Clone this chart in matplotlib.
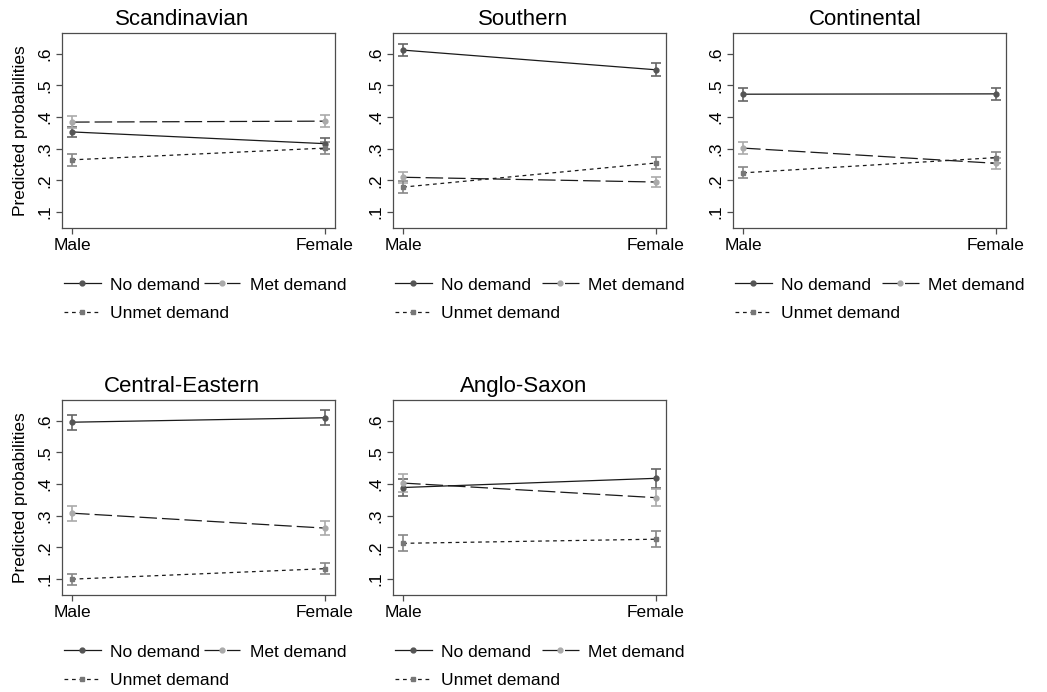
import matplotlib
matplotlib.use("Agg")
import matplotlib.pyplot as plt
from matplotlib.legend import Legend

plt.rcParams['font.family'] = ['Liberation Sans', 'DejaVu Sans']

regions = ['Scandinavian', 'Southern', 'Continental', 'Central-Eastern', 'Anglo-Saxon']
sexes = ['Male', 'Female']

# predicted probabilities (Male, Female) and half-width of the 95% CI
no_demand = [[0.353, 0.316], [0.611, 0.549], [0.472, 0.473], [0.595, 0.609], [0.389, 0.418]]
no_demand_ci = [[0.017, 0.018], [0.020, 0.021], [0.020, 0.020], [0.024, 0.024], [0.026, 0.030]]
met_demand = [[0.384, 0.387], [0.210, 0.195], [0.302, 0.254], [0.308, 0.261], [0.403, 0.357]]
met_demand_ci = [[0.020, 0.020], [0.017, 0.017], [0.019, 0.018], [0.024, 0.022], [0.028, 0.027]]
unmet_demand = [[0.265, 0.302], [0.179, 0.255], [0.224, 0.272], [0.100, 0.133], [0.213, 0.226]]
unmet_demand_ci = [[0.018, 0.018], [0.018, 0.018], [0.017, 0.017], [0.017, 0.017], [0.025, 0.025]]

yticks = [0.1, 0.2, 0.3, 0.4, 0.5, 0.6]
ytick_labels = ['.1', '.2', '.3', '.4', '.5', '.6']

series = [
	("No demand", no_demand, no_demand_ci, dict(ls='-', marker='o', mfc='#555555', bar='#666666')),
	("Met demand", met_demand, met_demand_ci, dict(ls=(0, (14, 4)), marker='o', mfc='#aaaaaa', bar='#aaaaaa')),
	("Unmet demand", unmet_demand, unmet_demand_ci, dict(ls=(0, (3, 3)), marker='s', mfc='#777777', bar='#888888')),
]

fig = plt.figure(figsize=(10.47, 6.92), dpi=100)

W = 273 / 1047
H = 195 / 692
lefts = [62 / 1047, 393 / 1047, 733 / 1047]
bottoms = [1 - 228 / 692, 1 - 595 / 692]
title_x = [0.44, 0.478, 0.484]
met_x = [0.52, 0.546, 0.546]

xs = [0, 1]
frame = '#4d4d4d'


def key(ax, handle, label, x, y):
	leg = Legend(ax, [handle], [label], loc='center left', bbox_to_anchor=(x, y),
		frameon=False, fontsize=12.5, handlelength=2.1, handletextpad=0.55,
		borderpad=0, borderaxespad=0, numpoints=1)
	ax.add_artist(leg)


for k, region in enumerate(regions):
	row, col = divmod(k, 3)
	ax = fig.add_axes([lefts[col], bottoms[row], W, H])

	handles = []
	for name, vals, ci, st in series:
		ax.errorbar(xs, vals[k], yerr=ci[k], fmt='none', ecolor=st['bar'],
			elinewidth=1.2, capsize=3.5, capthick=1.2, zorder=2)
		h, = ax.plot(xs, vals[k], color='#1a1a1a', lw=0.9, ls=st['ls'],
			marker=st['marker'], ms=3.5, mfc=st['mfc'], mec=st['mfc'], zorder=3)
		handles.append(h)

	ax.set_xlim(-0.04, 1.04)
	ax.set_ylim(0.05, 0.665)
	ax.set_xticks(xs)
	ax.set_xticklabels(sexes, fontsize=12.5)
	ax.set_yticks(yticks)
	ax.set_yticklabels(ytick_labels, fontsize=12.5, rotation=90, va='center')
	ax.tick_params(length=4, width=0.9, color=frame, pad=3)
	for sp in ax.spines.values():
		sp.set_color(frame)
		sp.set_linewidth(0.9)

	ax.set_title(region, fontsize=16, x=title_x[col], pad=6)
	if col == 0:
		ax.set_ylabel('Predicted probabilities', fontsize=12.5, labelpad=7)

	# keys: No demand and Met demand on one row, Unmet demand below
	key(ax, handles[0], 'No demand', 0.008, -0.292)
	key(ax, handles[1], 'Met demand', met_x[col], -0.292)
	key(ax, handles[2], 'Unmet demand', 0.008, -0.436)

fig.savefig('out.png', dpi=100)
